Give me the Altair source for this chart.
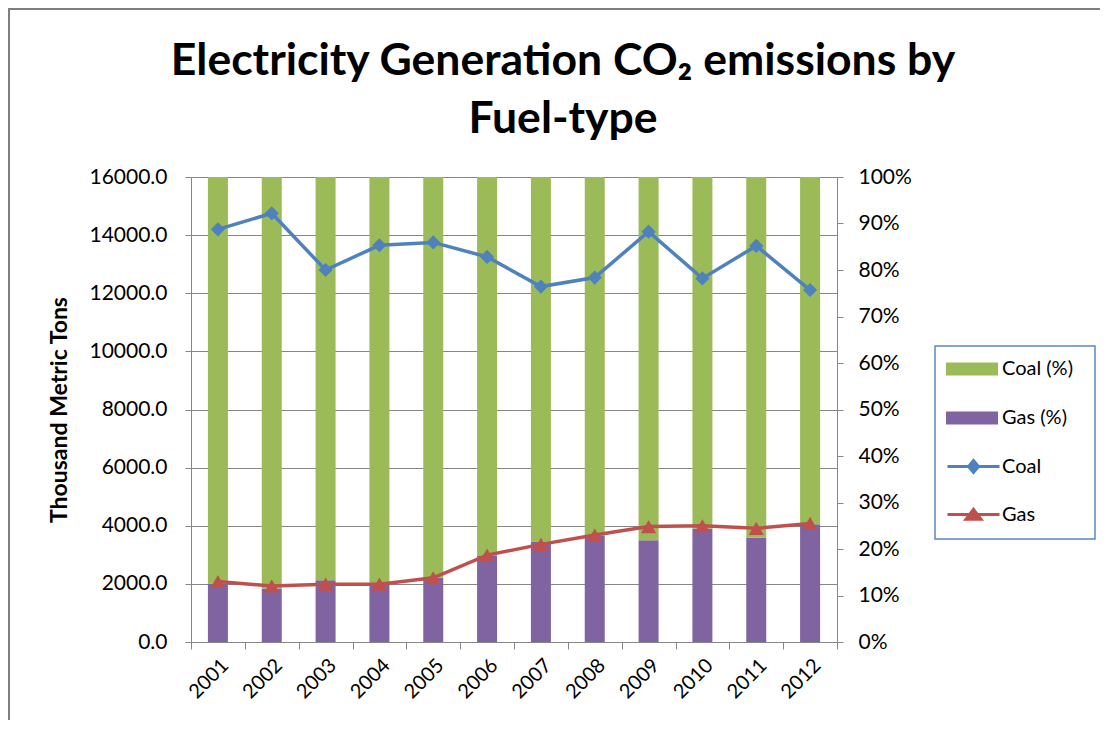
import altair as alt
import pandas as pd

years = ["2001", "2002", "2003", "2004", "2005", "2006",
         "2007", "2008", "2009", "2010", "2011", "2012"]
coal_tons = [14200, 14750, 12800, 13650, 13750, 13250,
             12230, 12540, 14120, 12510, 13630, 12110]
gas_tons = [2080, 1930, 1990, 1990, 2210, 2990,
            3360, 3680, 3970, 4000, 3910, 4080]
gas_pct = [12.6, 11.5, 13.3, 12.6, 13.8, 18.5,
           21.6, 22.9, 21.9, 24.4, 22.4, 25.3]
coal_pct = [87.4, 88.5, 86.7, 87.4, 86.2, 81.5,
            78.4, 77.1, 78.1, 75.6, 77.6, 74.7]

bar_series = ["Coal (%)", "Gas (%)"]
bar_colors = ["#9BBB59", "#8064A2"]
line_series = ["Coal", "Gas"]
line_colors = ["#4F81BD", "#C0504D"]

FONT = "Lato"
GRAY = "#868686"

bars_df = pd.DataFrame({
    "year": years * 2,
    "series": ["Gas (%)"] * len(years) + ["Coal (%)"] * len(years),
    "pct": gas_pct + coal_pct,
    "ord": [0] * len(years) + [1] * len(years),
})
lines_df = pd.DataFrame({
    "year": years * 2,
    "series": ["Coal"] * len(years) + ["Gas"] * len(years),
    "value": coal_tons + gas_tons,
})

LEG_X = 755

xenc = alt.X(
    "year:N",
    sort=years,
    scale=alt.Scale(paddingInner=0, paddingOuter=0),
    axis=alt.Axis(
        title=None, labelAngle=-45, labelAlign="right", labelBaseline="top",
        labelFont=FONT, labelFontSize=20, labelColor="black",
        tickBand="extent", tickSize=7, tickColor=GRAY, domainColor=GRAY,
        labelPadding=6, grid=False,
    ),
)

left_axis = alt.Axis(
    orient="left", title="Thousand Metric Tons", titleFont=FONT,
    titleFontSize=23, titleFontWeight="bold", titleColor="black",
    titlePadding=17, format=".1f", values=list(range(0, 16001, 2000)),
    labelFont=FONT, labelFontSize=21, labelColor="black", labelPadding=18,
    tickSize=6, tickColor=GRAY, domainColor=GRAY, grid=True,
    gridColor=GRAY, gridWidth=1,
)

right_axis = alt.Axis(
    orient="right", title=None, values=list(range(0, 101, 10)),
    labelExpr="datum.value + '%'", labelFont=FONT, labelFontSize=21,
    labelColor="black", labelPadding=15, tickSize=6, tickColor=GRAY,
    domainColor=GRAY, grid=False,
)

# decorations: outer chart frame (left and top edges) and legend frame
one = pd.DataFrame({"k": [0]})
frame_left = alt.Chart(one).mark_rule(
    stroke="#7f7f7f", strokeWidth=2, clip=False
).encode(x=alt.value(-182), y=alt.value(-169), y2=alt.value(543))
frame_top = alt.Chart(one).mark_rule(
    stroke="#7f7f7f", strokeWidth=2, clip=False
).encode(x=alt.value(-183), x2=alt.value(909), y=alt.value(-168))
legend_box = alt.Chart(one).mark_rect(
    fill="white", stroke="#5b87c4", strokeWidth=1.5, clip=False
).encode(
    x=alt.value(744), x2=alt.value(904),
    y=alt.value(169), y2=alt.value(362),
)

bar_legend = alt.Legend(
    title=None, orient="none", legendX=LEG_X, legendY=166,
    labelFont=FONT, labelFontSize=20, labelColor="black",
    padding=0, rowPadding=13, symbolSize=2704, labelOffset=4,
    symbolType="M-1,-0.25H1V0.25H-1Z", symbolStrokeWidth=0,
    symbolOpacity=1,
)
bars = alt.Chart(bars_df).mark_bar(size=20).encode(
    x=xenc,
    y=alt.Y("pct:Q", stack="zero",
            scale=alt.Scale(domain=[0, 100], nice=False), axis=right_axis),
    color=alt.Color("series:N", sort=bar_series,
                    scale=alt.Scale(domain=bar_series, range=bar_colors),
                    legend=bar_legend),
    order=alt.Order("ord:Q"),
)

yl = alt.Y("value:Q", scale=alt.Scale(domain=[0, 16000], nice=False),
           axis=left_axis)
line_color = alt.Color("series:N",
                       scale=alt.Scale(domain=line_series, range=line_colors),
                       legend=None)

lines = alt.Chart(lines_df).mark_line(strokeWidth=3.5).encode(
    x=xenc, y=yl, color=line_color,
)
coal_pts = alt.Chart(lines_df).transform_filter(
    alt.datum.series == "Coal"
).mark_point(filled=True, opacity=1, shape="diamond", size=200).encode(
    x=xenc, y=yl, color=line_color,
)
gas_pts = alt.Chart(lines_df).transform_filter(
    alt.datum.series == "Gas"
).mark_point(filled=True, opacity=1, shape="triangle-up", size=230).encode(
    x=xenc, y=yl, color=line_color,
)

line_legend = alt.Legend(
    title=None, orient="none", legendX=LEG_X, legendY=262,
    labelFont=FONT, labelFontSize=20, labelColor="black",
    padding=0, rowPadding=8, symbolSize=2704, labelOffset=1,
    symbolStrokeWidth=3, symbolOpacity=1,
)
legend_paths = [
    "M-1,0H1M0,-0.23L0.19,0L0,0.23L-0.19,0Z",
    "M-1,0H1M0,-0.2L0.29,0.18L-0.29,0.18Z",
]
legend_pts = alt.Chart(lines_df).mark_point(opacity=0, filled=True).encode(
    x=xenc, y=yl,
    fill=alt.Fill("series:N", sort=line_series,
                  scale=alt.Scale(domain=line_series, range=line_colors),
                  legend=line_legend),
    stroke=alt.Stroke("series:N", sort=line_series,
                      scale=alt.Scale(domain=line_series, range=line_colors),
                      legend=line_legend),
    shape=alt.Shape("series:N", sort=line_series,
                    scale=alt.Scale(domain=line_series, range=legend_paths),
                    legend=line_legend),
)

line_layer = alt.layer(lines, coal_pts, gas_pts, legend_pts)

chart = alt.layer(frame_left, frame_top, legend_box, bars, line_layer).resolve_scale(
    y="independent", color="independent"
).properties(
    width=646, height=465,
    title=alt.Title(
        ["Electricity Generation CO₂ emissions by", "Fuel-type"],
        font=FONT, fontSize=44.5, fontWeight="bold", color="black",
        anchor="middle", dx=49, offset=-135, lineHeight=58,
    ),
    autosize=alt.AutoSizeParams(type="none"),
    padding={"left": 183, "top": 169, "right": 263, "bottom": 78},
).configure_view(stroke=None).configure(background="white")

chart.save("out.html", embed_options={"renderer": "svg", "actions": False})
